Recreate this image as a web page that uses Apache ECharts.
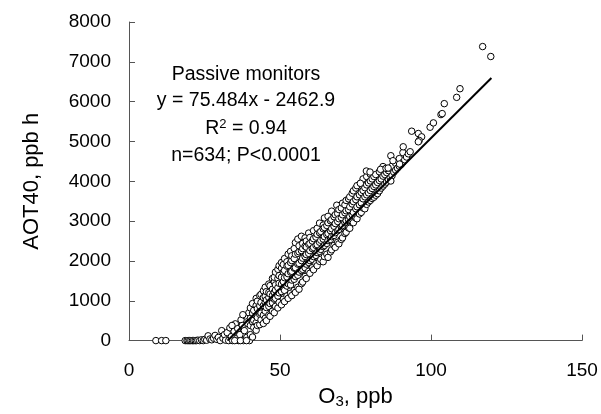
<!DOCTYPE html>
<html><head><meta charset="utf-8">
<script src="https://cdn.jsdelivr.net/npm/echarts@6/dist/echarts.min.js"></script>
<style>html,body{margin:0;padding:0;background:#fff}#c{width:601px;height:414px}</style>
</head><body><div id="c"></div>
<script>
// ---- data ----
const xTickLabels = ['0', '50', '100', '150'];
const yTickLabels = ['0','1000','2000','3000','4000','5000','6000','7000','8000'];
const annotationLines = ['Passive monitors', 'y = 75.484x - 2462.9', 'R{sup|2}{n| = 0.94}', 'n=634; P<0.0001'];
const fitSlope = 75.484;
const fitIntercept = -2462.9;
const fitXRange = [32.63, 120];

// points with AOT40 near zero (O3, AOT40)
const lowPoints = [
 [8.9,0],[10.8,0],[12.2,0],[18.6,0],[19.2,0],[19.6,0],[20.1,0],[20.5,0],[21.0,0],[21.4,0],[21.9,0],[22.3,0],
 [22.8,10],[23.4,0],[24.0,20],[24.6,0],[25.1,30],[25.7,10],[26.2,120],[26.8,40],[27.4,20],[28.0,60],[28.5,130],
 [29.1,30],[29.6,80],[30.2,0],[30.7,250],[31.1,60],[31.6,150],[32.0,10],[32.5,200],[33.0,0],[33.4,320],[33.9,100],
 [34.3,0],[34.8,230],[35.2,420],[35.6,50],[36.0,300],[36.3,0],[36.7,150],[37.1,520],[37.5,380],[37.9,0],[38.2,250],
 [38.6,620],[39.0,80],[39.3,430],[39.7,700],[39.9,0],[35.0,0],[36.9,0],[38.9,0],[34.1,380],[37.7,650]
];
// main cloud: each row = O3 value followed by the AOT40 values seen at that O3
const cloudRows = [
 [40.2,150,380,560,820],[40.9,90,470,690,930],[41.3,330,510,760],[42.1,260,450,620,880,1060],
 [42.5,380,580,800,990],[43.3,400,660,730,870,1130],[43.7,520,690,960,1160],[44.5,430,640,880,1080,1250],
 [45.1,560,740,960,1110,1340],[45.5,500,830,1020,1230],[46.3,640,860,1080,1210,1420],[46.7,610,930,1170,1380],
 [47.5,740,950,1130,1290,1560],[48.1,700,1040,1210,1470,1590],[48.5,860,1060,1270,1400,1720],
 [49.3,820,1120,1330,1560,1790],[49.7,960,1200,1440,1630,1880],[50.5,900,1230,1420,1590,1820,1960],
 [51.1,1040,1320,1480,1720,1910],[51.5,980,1260,1580,1760,2060],[52.3,1120,1370,1600,1870,1980],
 [52.7,1060,1430,1680,1890,2170],[53.5,1190,1400,1720,1960,2240],[53.9,1130,1520,1740,2010,2130],
 [54.7,1260,1540,1820,2060,2310],[55.1,1210,1610,1830,2170,2460],[55.9,1340,1640,1920,2190,2550],
 [56.3,1290,1720,1940,2230,2380],[57.1,1430,1760,2010,2260,2620],[57.5,1470,1790,2070,2310,2440],
 [58.3,1610,1830,2110,2370,2580],[58.7,1560,1920,2160,2350,2500],[59.5,1740,1960,2190,2420,2700],
 [59.9,1690,2010,2260,2440,2590],[60.7,1830,2040,2310,2500],[61.1,1780,2110,2340,2560,2760],
 [61.9,1930,2140,2390,2600],[62.3,1880,2210,2410,2670,2820],[63.1,1990,2240,2470,2710,2950],
 [63.5,2040,2290,2520,2740],[64.3,1980,2360,2550,2810,2900],[64.7,2110,2390,2610,2840,3080],
 [65.5,2170,2440,2660,2890],[65.9,2090,2510,2690,2960,3120],[66.7,2230,2540,2760,3010],
 [67.1,2280,2610,2810,3040,3250],[67.9,2390,2640,2870,3110],[68.3,2340,2710,2940,3160],[68.8,3400],
 [69.1,2470,2760,2990,3190],[69.5,2430,2790,3060,3290],[70.3,2540,2860,3090,3330],[70.7,2580,2890,3160,3450],
 [71.5,2690,2960,3210,3410],[71.9,2720,3010,3260,3520],[72.7,2830,3040,3290,3560],[73.1,2820,3110,3360,3610],
 [73.9,2980,3160,3430,3700],[74.3,2960,3220,3490,3760],[75.1,3080,3310,3540,3830],[75.5,3060,3360,3610,3890],
 [76.3,3180,3410,3660],[76.9,3220,3460,3720,3940],[77.5,3330,3560,3770,4060],[78.1,3310,3610,3840],
 [78.7,3420,3660,3910,4120],[79.3,3480,3710,3960],[79.9,3520,3770,4010,4180],[80.5,3570,3820,4060],
 [81.1,3600,3870,4120],[81.7,3650,3910,4170],[82.3,3690,3970],[82.9,3760,4020,4240],[83.5,3830,4060],
 [84.1,3880,4130,4370],[84.7,3930,4170],[85.3,3980,4220],[85.9,4040,4270],[86.5,4090,4330],[87.1,4140,4380],
 [87.7,4230],[88.3,4280,4450],[88.9,4330],[89.5,4380,4570],[90.1,4420],[90.7,4480,4720],[91.3,4540],
 [91.9,4610],[92.5,4690]
];
// sparse high points
const highPoints = [
 [90.8,4867],[93.1,4742],[93.6,5258],[95.8,5200],[96.9,5117],[96.1,5025],[95.8,4992],[99.7,5358],[100.8,5467],
 [103.3,5675],[103.7,5700],[104.4,5950],[108.5,6108],[109.6,6325],[117.1,7383],[119.8,7133],
 [86.7,4642],[87.4,4517],[89.6,4433],[78.6,4258],[79.8,4233],[83.3,4300],[85.1,4325],[85.8,4333],[76.6,3950],[86.7,4008]
];

// ---- build ----
const cloudPoints = [];
cloudRows.forEach(r => { for (let i = 1; i < r.length; i++) cloudPoints.push([r[0], r[i]]); });
const allPoints = lowPoints.concat(cloudPoints, highPoints);
const fitLine = fitXRange.map(x => [x, fitSlope * x + fitIntercept]);

const FONT = "'Liberation Sans', Arial, sans-serif";
const chart = echarts.init(document.getElementById('c'), null, {renderer: 'canvas'});
const axisCommon = {
  axisLine: {show: true, lineStyle: {color: '#555', width: 1}},
  axisTick: {show: true, inside: true, length: 6, lineStyle: {color: '#555'}},
  splitLine: {show: false},
  nameLocation: 'middle',
  nameTextStyle: {color: '#000', fontFamily: FONT, fontSize: 22}
};
chart.setOption({
  animation: false,
  backgroundColor: '#fff',
  grid: {left: 129, right: 19, top: 22, bottom: 72, containLabel: false},
  xAxis: Object.assign({}, axisCommon, {
    type: 'value', min: 0, max: 150, interval: 50,
    name: 'O{sub|3}, ppb', nameGap: 41,
    nameTextStyle: {color: '#000', fontFamily: FONT, fontSize: 22,
      rich: {sub: {fontSize: 15, fontFamily: FONT, color: '#000', padding: [10, 0, 0, 0]}}},
    axisLabel: {color: '#000', fontFamily: FONT, fontSize: 19, margin: 21,
      formatter: v => xTickLabels[Math.round(v / 50)]}
  }),
  yAxis: Object.assign({}, axisCommon, {
    type: 'value', min: 0, max: 8000, interval: 1000,
    name: 'AOT40, ppb h', nameGap: 86, nameRotate: 90,
    axisLabel: {color: '#000', fontFamily: FONT, fontSize: 19, margin: 18,
      formatter: v => yTickLabels[Math.round(v / 1000)]}
  }),
  graphic: annotationLines.map((t, i) => ({
    type: 'text', x: 246, y: [75, 101, 129, 156][i],
    style: {
      text: t, fill: '#000', font: '19.5px ' + FONT, align: 'center', verticalAlign: 'middle',
      textAlign: 'center', textVerticalAlign: 'middle',
      rich: {sup: {fontSize: 13, fontFamily: FONT, fill: '#000', padding: [0, 0, 10, 0]},
             n: {fontSize: 19.5, fontFamily: FONT, fill: '#000'}}
    }
  })),
  series: [
    {type: 'scatter', data: allPoints, symbol: 'circle', symbolSize: 6.5,
     itemStyle: {color: '#fff', borderColor: '#000', borderWidth: 1, opacity: 1}, z: 2, silent: true},
    {type: 'line', data: fitLine, showSymbol: false, symbol: 'none',
     lineStyle: {color: '#000', width: 2}, z: 3, silent: true}
  ]
});
</script></body></html>
